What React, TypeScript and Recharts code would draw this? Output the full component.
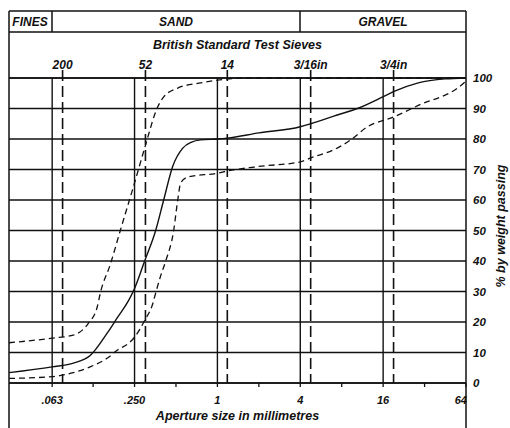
import React from "react";
import {
  LineChart, Line, XAxis, YAxis, CartesianGrid, ReferenceLine,
} from "recharts";

// particle sizes (mm), % passing
const midSizes = [0.0306, 0.063, 0.09, 0.119, 0.159, 0.188, 0.226, 0.25, 0.296, 0.356, 0.407, 0.473, 0.56, 0.65, 0.757, 1.0, 1.18, 2.0, 4.0, 4.76, 7.0, 10.4, 16.2, 19.0, 28.8, 45, 64];
const midPass = [3.4, 5.3, 6.5, 9.0, 16.5, 21.5, 27, 31, 40, 50, 60, 71, 77, 79, 79.7, 80, 80.3, 82, 84, 85, 87.5, 90, 94, 95.5, 98.4, 99.7, 100];

const fineSizes = [0.0306, 0.063, 0.0897, 0.115, 0.134, 0.141, 0.167, 0.197, 0.25, 0.296, 0.368, 0.407, 0.515, 0.757, 1.0, 1.71, 64];
const finePass = [13.2, 14.7, 15.7, 19.5, 25, 29.5, 39, 50, 65.6, 77, 90.5, 93.8, 96.7, 98.4, 99.3, 100, 100];

const coarseSizes = [0.0306, 0.063, 0.0897, 0.119, 0.159, 0.188, 0.226, 0.25, 0.296, 0.339, 0.356, 0.386, 0.421, 0.481, 0.515, 0.541, 0.609, 1.0, 1.18, 2.0, 4.0, 4.76, 6.96, 9.3, 12.3, 19.0, 28.8, 59.4, 64];
const coarsePass = [1.5, 2.1, 3.4, 5.3, 8.2, 10.8, 13, 15, 20.5, 26, 29.5, 35, 40, 50, 60, 65.6, 67.5, 68.8, 69.5, 71, 72.5, 73.8, 76.4, 79.7, 84, 87.2, 91, 97.7, 99];

const sizeTicks = [0.063, 0.125, 0.25, 0.5, 1, 2, 4, 8, 16, 32, 64];
const sizeLabels: Record<string, string> = { "0.063": ".063", "0.25": ".250", "1": "1", "4": "4", "16": "16", "64": "64" };
const majorSizes = [0.063, 0.25, 1, 4, 16];

const sieveSizes = [0.075, 0.3, 1.18, 4.76, 19.05];
const sieveNames = ["200", "52", "14", "3/16in", "3/4in"];

const passTicks = [0, 10, 20, 30, 40, 50, 60, 70, 80, 90, 100];

const toRows = (xs: number[], ys: number[]) => xs.map((size, i) => ({ size, pct: ys[i] }));
const midData = toRows(midSizes, midPass);
const fineData = toRows(fineSizes, finePass);
const coarseData = toRows(coarseSizes, coarsePass);

const INK = "#111";
const FONT = "'Liberation Sans', Arial, Helvetica, sans-serif";
const txt = { fontFamily: FONT, fontWeight: 700, fontStyle: "italic" as const, fill: INK };
const DOMAIN: [number, number] = [0.0306, 64];
const SIEVE_TOP = 102.6; // short tick above the frame

const SizeTick = (props: any) => {
  const { x, y, payload } = props;
  const label = sizeLabels[String(payload.value)];
  if (!label) return null;
  const last = payload.value === 64;
  return (
    <text x={last ? x + 1 : x} y={y} dy={15} textAnchor={last ? "end" : "middle"} fontSize={11} {...txt}>
      {label}
    </text>
  );
};

export default function App() {
  return (
    <div style={{ position: "absolute", left: 0, top: 0, width: 510, height: 428, background: "#fff" }}>
      <LineChart width={510} height={428} margin={{ top: 78, right: 0, bottom: 0, left: 9 }}>
        <CartesianGrid vertical={false} stroke={INK} strokeWidth={1.4} />
        <XAxis
          dataKey="size" type="number" scale="log" domain={DOMAIN} allowDataOverflow
          ticks={sizeTicks} interval={0} height={45} tickSize={4} tickMargin={2}
          axisLine={{ stroke: INK, strokeWidth: 1.5 }} tickLine={{ stroke: INK, strokeWidth: 1.3 }}
          tick={<SizeTick />}
        />
        <YAxis
          orientation="right" type="number" domain={[0, 100]} ticks={passTicks} interval={0}
          width={44} axisLine={false} tickLine={false} tickSize={6} tickMargin={1}
          tick={{ ...txt, fontSize: 11.5, textAnchor: "start" }}
        />
        <ReferenceLine y={100} stroke={INK} strokeWidth={1.5} />
        {majorSizes.map((s) => (
          <ReferenceLine key={s} x={s} stroke={INK} strokeWidth={1.4} />
        ))}
        {sieveSizes.map((s, i) => (
          <ReferenceLine
            key={s}
            segment={[{ x: s, y: SIEVE_TOP }, { x: s, y: 0 }]}
            ifOverflow="visible"
            stroke={INK} strokeWidth={1.6} strokeDasharray="11 5"
            label={{ value: sieveNames[i], position: "top", offset: 1, fontSize: 12, ...txt }}
          />
        ))}
        <Line data={fineData} dataKey="pct" type="monotone" stroke={INK} strokeWidth={1.3} strokeDasharray="6 4" dot={false} activeDot={false} isAnimationActive={false} />
        <Line data={coarseData} dataKey="pct" type="monotone" stroke={INK} strokeWidth={1.3} strokeDasharray="6 4" dot={false} activeDot={false} isAnimationActive={false} />
        <Line data={midData} dataKey="pct" type="monotone" stroke={INK} strokeWidth={1.4} dot={false} activeDot={false} isAnimationActive={false} />
      </LineChart>
      <svg width={510} height={428} style={{ position: "absolute", left: 0, top: 0, pointerEvents: "none" }}>
        <g stroke={INK} strokeWidth={1.5}>
          <line x1={9} y1={11} x2={466} y2={11} />
          <line x1={9} y1={32} x2={466} y2={32} />
          <line x1={52} y1={11} x2={52} y2={32} />
          <line x1={300} y1={11} x2={300} y2={32} />
          <line x1={9} y1={11} x2={9} y2={428} />
          <line x1={466} y1={11} x2={466} y2={428} />
        </g>
        <text x={30} y={26} textAnchor="middle" fontSize={12} {...txt}>FINES</text>
        <text x={176} y={26} textAnchor="middle" fontSize={12} {...txt}>SAND</text>
        <text x={383} y={26} textAnchor="middle" fontSize={12} {...txt}>GRAVEL</text>
        <text x={237.5} y={49} textAnchor="middle" fontSize={12.5} {...txt}>British Standard Test Sieves</text>
        <text x={237.5} y={420} textAnchor="middle" fontSize={12.5} {...txt}>Aperture size in millimetres</text>
        <text x={505} y={226} textAnchor="middle" fontSize={12.5} transform="rotate(-90 505 226)" {...txt}>% by weight passing</text>
      </svg>
    </div>
  );
}
